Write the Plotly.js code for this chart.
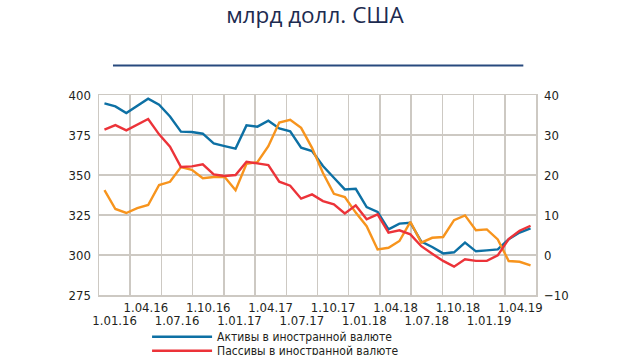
<!DOCTYPE html>
<html>
<head>
<meta charset="utf-8">
<script src="https://cdn.plot.ly/plotly-3.0.1.min.js"></script>
<style>
  html, body { margin: 0; padding: 0; background: #ffffff; }
  #chart { width: 630px; height: 355px; }
</style>
</head>
<body>
<div id="chart"></div>
<script>
// Monthly observations, January 2016 – April 2019
const months = [
  "2016-01","2016-02","2016-03","2016-04","2016-05","2016-06","2016-07","2016-08","2016-09","2016-10","2016-11","2016-12",
  "2017-01","2017-02","2017-03","2017-04","2017-05","2017-06","2017-07","2017-08","2017-09","2017-10","2017-11","2017-12",
  "2018-01","2018-02","2018-03","2018-04","2018-05","2018-06","2018-07","2018-08","2018-09","2018-10","2018-11","2018-12",
  "2019-01","2019-02","2019-03","2019-04"
];

// Активы в иностранной валюте, млрд долл. США (left axis)
const assets = [394.8, 392.9, 388.7, 393.1, 397.7, 393.9, 386.6, 377.1, 376.9, 375.8, 369.8, 368.1,
                366.5, 381.0, 380.2, 383.9, 379.1, 377.3, 367.1, 365.0, 355.6, 348.3, 341.0, 341.4,
                330.0, 326.9, 316.0, 319.6, 320.2, 308.4, 305.0, 301.0, 301.7, 307.7, 302.3, 302.9,
                303.5, 309.8, 314.0, 316.7];

// Пассивы в иностранной валюте, млрд долл. США (left axis)
const liabilities = [378.3, 381.2, 377.9, 381.6, 385.0, 375.4, 367.7, 355.0, 355.4, 356.7, 350.4, 349.4,
                     350.0, 358.3, 357.1, 356.2, 345.8, 343.3, 335.2, 337.9, 333.7, 331.7, 326.0, 331.0,
                     322.3, 325.4, 314.0, 315.4, 312.9, 305.5, 300.8, 296.3, 292.7, 297.3, 296.3, 296.4,
                     299.8, 310.0, 315.2, 318.3];

// Чистая позиция, млрд долл. США (right axis)
const netPosition = [16.2, 11.5, 10.5, 11.7, 12.5, 17.5, 18.3, 22.0, 21.3, 19.2, 19.5, 19.5,
                     16.2, 22.8, 23.2, 27.2, 33.1, 33.8, 31.8, 26.8, 20.5, 15.3, 14.5, 10.6,
                     7.2, 1.4, 1.8, 3.5, 8.3, 3.1, 4.3, 4.5, 8.7, 9.9, 6.2, 6.4,
                     3.9, -1.5, -1.7, -2.6];

// Quarter labels on the horizontal axis
const quarterLabels = ["1.01.16","1.04.16","1.07.16","1.10.16","1.01.17","1.04.17","1.07.17","1.10.17",
                       "1.01.18","1.04.18","1.07.18","1.10.18","1.01.19","1.04.19"];

const seriesNames = ["Активы в иностранной валюте", "Пассивы в иностранной валюте", "Чистая позиция"];
const titleText = "млрд долл. США";

// ---- build ----
const xIdx = months.map((m, i) => i);
const xMin = -0.5, xMax = months.length - 0.5;
const qStep = (xMax - xMin) / quarterLabels.length;
const qPos = quarterLabels.map((q, k) => xMin + (k + 0.5) * qStep);
const topVals = [], topText = [], botVals = [], botText = [];
quarterLabels.forEach((q, k) => {
  if (k % 2 === 1) { topVals.push(qPos[k]); topText.push(q); }
  else { botVals.push(qPos[k]); botText.push(q); }
});

const FONT = "'DejaVu Sans Condensed', 'Liberation Sans Narrow', sans-serif";
const GRID = "#cdc9c3";
const TXT = "#231f20";
const TICK = { family: FONT, size: 13, color: TXT };

const traces = [
  { x: xIdx, y: assets, name: seriesNames[0], type: "scatter", mode: "lines",
    line: { color: "#0d70a4", width: 2.4 }, xaxis: "x", yaxis: "y", legend: "legend", hoverinfo: "skip" },
  { x: xIdx, y: liabilities, name: seriesNames[1], type: "scatter", mode: "lines",
    line: { color: "#ec3339", width: 2.4 }, xaxis: "x2", yaxis: "y", legend: "legend2", hoverinfo: "skip" },
  { x: xIdx, y: netPosition, name: seriesNames[2], type: "scatter", mode: "lines",
    line: { color: "#f7941d", width: 2.4 }, xaxis: "x", yaxis: "y2", showlegend: false, hoverinfo: "skip" }
];

const layout = {
  width: 630, height: 355,
  margin: { l: 99, r: 94, t: 95, b: 60, autoexpand: false },
  paper_bgcolor: "#ffffff", plot_bgcolor: "#ffffff",
  font: { family: FONT, size: 13, color: TXT },
  showlegend: true,
  title: {
    text: titleText,
    font: { family: "'Open Sans', 'Noto Sans', sans-serif", size: 22.5, color: "#1d2b50" },
    x: 0.5, xref: "container", xanchor: "center",
    y: 0.958, yref: "container", yanchor: "middle"
  },
  xaxis: {
    range: [xMin, xMax],
    tickmode: "array", tickvals: topVals, ticktext: topText,
    ticks: "", showgrid: false, zeroline: false,
    showline: true, mirror: true, linecolor: GRID, linewidth: 1.5,
    minor: { tickmode: "linear", tick0: xMin, dtick: qStep, showgrid: true, gridcolor: GRID, gridwidth: 1.5, ticks: "" },
    tickfont: TICK,
    ticklabelstandoff: 0
  },
  xaxis2: {
    overlaying: "x", anchor: "y", side: "bottom",
    range: [xMin, xMax],
    tickmode: "array", tickvals: botVals, ticktext: botText,
    ticks: "", showgrid: false, zeroline: false, showline: false,
    tickfont: TICK,
    ticklabelstandoff: 16
  },
  yaxis: {
    range: [275, 400], tickmode: "linear", tick0: 275, dtick: 25,
    ticks: "", showgrid: true, gridcolor: GRID, gridwidth: 1.5, zeroline: false,
    showline: true, mirror: true, linecolor: GRID, linewidth: 1.5,
    tickfont: TICK,
    ticklabelstandoff: 4
  },
  yaxis2: {
    overlaying: "y", side: "right", anchor: "x",
    range: [-10, 40], tickmode: "linear", tick0: -10, dtick: 10,
    ticks: "", showgrid: false, zeroline: false, showline: false,
    tickfont: TICK,
    ticklabelstandoff: 7
  },
  legend: {
    x: 0.11, xref: "paper", xanchor: "left",
    y: -0.2085, yref: "paper", yanchor: "middle",
    bgcolor: "rgba(0,0,0,0)", font: { family: FONT, size: 12, color: TXT },
    itemwidth: 60
  },
  legend2: {
    x: 0.11, xref: "paper", xanchor: "left",
    y: -0.2785, yref: "paper", yanchor: "middle",
    bgcolor: "rgba(0,0,0,0)", font: { family: FONT, size: 12, color: TXT },
    itemwidth: 60
  },
  shapes: [
    { type: "line", xref: "paper", yref: "paper", x0: 0.032, x1: 0.971, y0: 1.148, y1: 1.148,
      line: { color: "#284a7e", width: 2 } }
  ]
};

Plotly.newPlot("chart", traces, layout, { staticPlot: true, displayModeBar: false });
</script>
</body>
</html>
